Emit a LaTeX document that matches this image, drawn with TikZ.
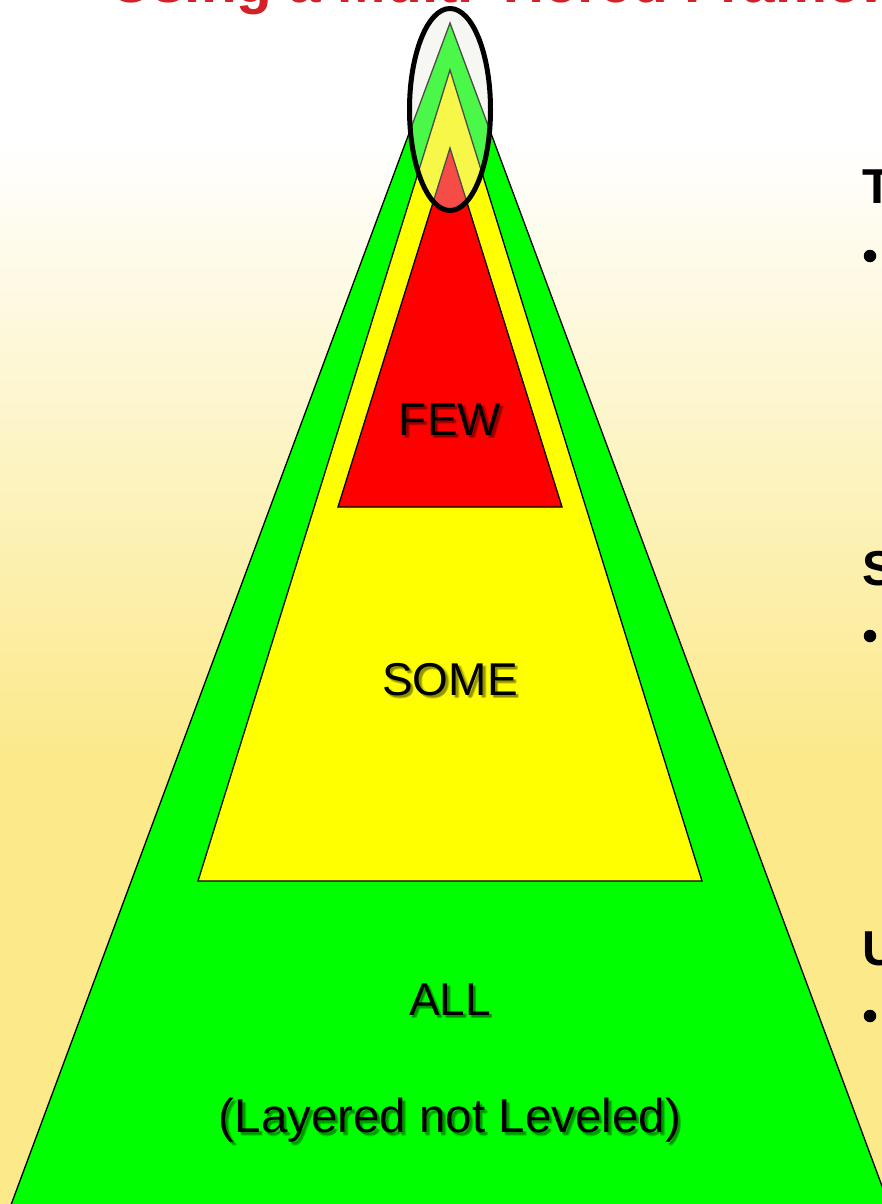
\documentclass[tikz,border=0pt]{standalone}
\usepackage{fontspec}
\setmainfont{Liberation Sans}
\definecolor{bgyel}{RGB}{251,233,138}
\definecolor{titred}{RGB}{212,32,39}
\definecolor{ovl}{RGB}{230,232,220}
\definecolor{pyel}{RGB}{255,255,0}
\definecolor{pgrn}{RGB}{0,255,0}
\definecolor{pred}{RGB}{255,0,0}
\begin{document}
\begin{tikzpicture}[x=1pt,y=-1pt,
  tri/.style={draw=black, line width=1.3pt, line join=miter},
  lbl/.style={font=\fontsize{46}{50}\selectfont, anchor=base, inner sep=0pt},
  shd/.style={lbl, text=black, text opacity=0.13},
  side/.style={font=\fontsize{49}{54}\selectfont\bfseries, anchor=base west, inner sep=0pt},
  dotmark/.style={circle, fill=black, minimum size=12.5pt, inner sep=0pt}]
\useasboundingbox (0,0) rectangle (882,1204);
\clip (0,0) rectangle (882,1204);
% background
\fill[white] (0,0) rectangle (882,140);
\shade[top color=white, bottom color=bgyel] (0,139) rectangle (882,761);
\fill[bgyel] (0,760) rectangle (882,1204);
% title (cut off at top)
\node[anchor=base west, inner sep=0pt, text=titred, font=\fontsize{58.5}{62}\selectfont\bfseries] (title) at (110,2.5) {Using a Multi-Tiered Framework};
% triangles
\filldraw[tri, fill=pgrn] (450,23) -- (5.4,1220) -- (894.6,1220) -- cycle;
\filldraw[tri, fill=pyel] (450,70) -- (198,881) -- (702,881) -- cycle;
\filldraw[tri, fill=pred] (450,148) -- (338,507) -- (562,507) -- cycle;
% labels with soft shadows
\foreach \dx/\dy in {2/2,3/3,2.5/3.5,3.5/2.5} {
  \node[shd] at (450+\dx,435+\dy) {FEW};
  \node[shd] at (450+\dx,695+\dy) {SOME};
  \node[shd] at (450+\dx,1015+\dy) {ALL};
  \node[shd, font=\fontsize{47.5}{52}\selectfont] at (450+\dx,1132.5+\dy) {(Layered not Leveled)};
}
\node[lbl] (few) at (450,435) {FEW};
\node[lbl] (some) at (450,695) {SOME};
\node[lbl] (all) at (450,1015) {ALL};
\node[lbl, font=\fontsize{47.5}{52}\selectfont] (layer) at (450,1132.5) {(Layered not Leveled)};
% ellipse highlight
\fill[ovl, fill opacity=0.33] (450,109.5) ellipse [x radius=40.5, y radius=101];
\draw[black, line width=5pt] (450,109.5) ellipse [x radius=40.5, y radius=101];
% right-side headings (cut off)
\node[side] (ht) at (862,203) {T};
\node[dotmark] (b1) at (870,256) {};
\node[side] (hs) at (862,585) {S};
\node[dotmark] (b2) at (870,636) {};
\node[side] (hu) at (862,965) {U};
\node[dotmark] (b3) at (870,1016) {};
\end{tikzpicture}
\end{document}
